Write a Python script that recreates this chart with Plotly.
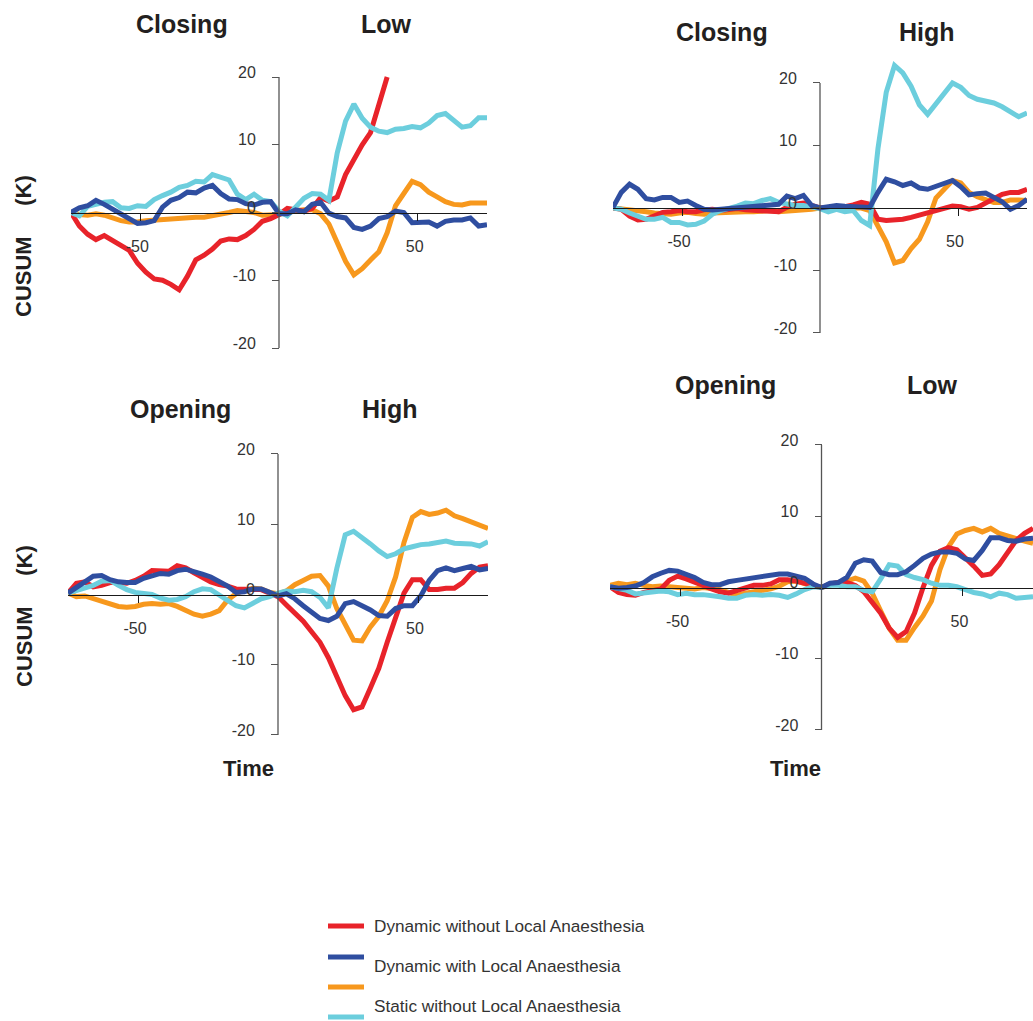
import plotly.graph_objects as go

W, H = 1033, 1021

# ---------------- data ----------------
time = list(range(-75, 76, 3))  # 51 samples

series_names = ["Dynamic without Local Anaesthesia",
                "Dynamic with Local Anaesthesia",
                "Static without Local Anaesthesia",
                "Static with Local Anaesthesia"]
legend_texts = ["Dynamic without Local Anaesthesia",
                "Dynamic with Local Anaesthesia",
                "Static without Local Anaesthesia"]
series_colors = ["#E8232A", "#2F4EA0", "#F7981D", "#6CCEDD"]

panel_titles = [("Closing", "Low"), ("Closing", "High"),
                ("Opening", "High"), ("Opening", "Low")]
y_ticks = [-20, -10, 0, 10, 20]
y_tick_labels = ["-20", "-10", "0", "10", "20"]
x_ticks = [-50, 50]
x_tick_labels = ["-50", "50"]

# Panel 1: Closing / Low
cl_low_red = [0, -2.0, -3.2, -4.0, -3.4, -4.2, -4.8, -5.6, -7.5, -8.8, -9.8, -10.0, -10.6, -11.4,
              -9.4, -7.0, -6.3, -5.4, -4.2, -3.9, -4.0, -3.4, -2.5, -1.3, -0.9, -0.3, 0.6, 0.4,
              0.2, 0.6, 2.2, 1.7, 2.3, 5.6, 7.8, 10.0, 11.8, 16.0, 20.0,
              None, None, None, None, None, None, None, None, None, None, None, None, None]
cl_low_blue = [0, 0.7, 1.0, 1.8, 1.2, 0.5, -0.2, -0.7, -1.6, -1.5, -1.2, 0.8, 1.8, 2.2, 3.0, 2.9,
               3.6, 4.0, 2.8, 2.0, 1.9, 1.3, 1.1, 1.5, 1.6, -0.2, -0.2, 0.4, 0.1, 1.2, 1.5, -0.1,
               -0.6, -0.8, -2.2, -2.5, -2.0, -0.9, -0.6, 0.2, 0.0, -1.5, -1.4, -1.4, -2.0, -1.3,
               -1.1, -1.1, -0.8, -2.0, -1.8]
cl_low_orange = [0, -0.3, -0.4, -0.2, -0.4, -0.9, -1.2, -1.4, -1.4, -1.2, -1.1, -1.1, -1.0, -0.9,
                 -0.8, -0.7, -0.7, -0.5, -0.3, 0.0, 0.3, 0.2, 0.0, -0.4, -0.4, -0.3, 0.1, 0.3, 0.4,
                 0.4, -0.2, -1.7, -4.6, -7.2, -9.2, -8.3, -7.0, -5.8, -3.0, 1.0, 2.8, 4.6, 4.1,
                 3.0, 2.3, 1.6, 1.2, 1.1, 1.4, 1.4, 1.4]
cl_low_cyan = [0, -0.5, 0.9, 1.2, 1.5, 1.6, 0.7, 0.6, 1.0, 0.9, 1.9, 2.5, 3.0, 3.7, 4.0, 4.6, 4.5,
               5.6, 5.2, 4.8, 2.7, 1.9, 2.7, 1.8, 1.6, 0.2, -0.5, 0.7, 2.1, 2.8, 2.7, 1.8, 8.8,
               13.5, 16.0, 13.9, 12.6, 12.0, 11.8, 12.3, 12.4, 12.7, 12.5, 13.2, 14.3, 14.6, 13.6,
               12.6, 12.8, 14.0, 14.0]

# Panel 2: Closing / High
cl_high_red = [0, -0.2, -1.3, -1.9, -1.8, -1.3, -0.7, -0.6, -0.4, -0.6, -0.6, -0.3, -0.2, -0.4,
               -0.3, -0.1, -0.3, -0.4, -0.5, -0.7, -0.6, 0.1, 0.6, 0.8, 0.3, 0.0, 0.1, 0.1, 0.2,
               0.5, 0.9, 0.6, -1.8, -2.0, -2.0, -1.8, -1.5, -1.1, -0.7, -0.3, 0.0, 0.3, 0.2, -0.2,
               0.1, 0.8, 1.5, 2.2, 2.5, 2.5, 3.0]
cl_high_blue = [0.1, 2.5, 3.8, 3.0, 1.5, 1.3, 1.7, 1.7, 0.9, 1.1, 0.4, -0.2, -0.3, -0.2, -0.1, 0.0,
                0.0, 0.1, 0.2, 0.3, 0.6, 1.9, 1.5, 2.0, 0.4, 0.0, 0.3, 0.4, 0.3, 0.3, 0.1, 0.1,
                2.5, 4.6, 4.2, 3.6, 4.0, 3.2, 3.0, 3.5, 4.0, 4.4, 3.4, 2.1, 2.3, 2.4, 1.7, 1.0,
                -0.2, 0.4, 1.4]
cl_high_orange = [0, -0.1, -0.2, -0.3, -0.6, -0.8, -1.0, -1.0, -0.8, -0.7, -0.9, -1.0, -0.8, -0.7,
                  -0.7, -0.7, -0.6, -0.6, -0.5, -0.4, -0.6, -0.5, -0.4, -0.4, -0.2, 0.0, 0.0, 0.1,
                  0.1, 0.0, 0.0, -0.4, -3.0, -5.4, -8.8, -8.4, -6.5, -5.0, -2.2, 1.6, 3.0, 4.4,
                  4.0, 2.5, 1.8, 1.3, 0.9, 0.9, 1.3, 1.3, 1.2]
cl_high_cyan = [0, -0.2, -0.8, -1.4, -1.8, -1.8, -1.5, -2.3, -2.3, -2.7, -2.6, -2.1, -1.0, -0.4,
                -0.1, 0.3, 0.8, 0.7, 1.2, 1.5, 0.9, 0.6, 0.4, 0.4, 0.2, -0.1, -0.6, -0.2, -0.6,
                -0.4, -2.0, -2.8, 9.5, 18.5, 22.8, 21.6, 19.5, 16.5, 15.0, 16.6, 18.2, 20.0, 19.3,
                18.0, 17.4, 17.2, 16.8, 16.2, 15.4, 14.6, 15.2]

# Panel 3: Opening / High
op_high_red = [0.2, 1.6, 1.8, 1.1, 1.3, 1.7, 1.7, 1.6, 2.0, 2.6, 3.4, 3.3, 3.3, 4.1, 3.8, 3.1, 2.4,
               1.8, 1.4, 1.2, 0.8, 0.7, 0.7, 0.7, 0.2, -0.3, -1.5, -2.6, -3.8, -5.3, -6.8, -9.0,
               -11.8, -14.4, -16.4, -16.0, -13.3, -10.5, -6.8, -3.3, 0.2, 2.1, 2.1, 0.7, 0.7, 0.9,
               0.9, 1.7, 3.0, 3.9, 4.1]
op_high_blue = [0.2, 1.1, 1.8, 2.6, 2.7, 2.1, 1.8, 1.7, 1.7, 2.3, 2.7, 3.0, 2.9, 3.4, 3.6, 3.3, 2.9,
                2.5, 1.9, 1.2, 0.3, 0.4, 0.8, 0.8, 0.3, -0.2, 0.1, -0.6, -1.6, -2.6, -3.4, -3.7,
                -3.1, -1.3, -1.0, -1.6, -2.2, -3.0, -3.1, -2.0, -1.6, -1.6, -0.2, 2.0, 3.4, 3.8,
                3.4, 3.7, 4.0, 3.5, 3.7]
op_high_orange = [0.2, -0.3, -0.2, -0.6, -1.0, -1.4, -1.7, -1.8, -1.7, -1.4, -1.3, -1.4, -1.3, -1.7,
                  -2.3, -2.8, -3.1, -2.8, -2.3, -0.8, 0.1, 0.6, 0.9, 0.8, 0.3, 0.1, 0.5, 1.4, 2.0,
                  2.6, 2.7, 1.2, -2.0, -4.4, -6.5, -6.6, -4.6, -3.1, -0.9, 2.5, 7.4, 11.0, 11.8,
                  11.4, 11.6, 12.0, 11.2, 10.8, 10.3, 9.8, 9.4]
op_high_cyan = [0.2, 0.6, 0.9, 1.3, 1.9, 2.0, 1.3, 0.7, 0.3, 0.2, 0.0, -0.5, -0.8, -0.7, -0.3, 0.4,
                0.8, 0.7, -0.1, -0.9, -1.6, -1.9, -1.3, -0.6, -0.3, 0.2, 0.5, 0.4, 0.6, 0.4, -0.4,
                -1.9, 3.7, 8.5, 9.0, 8.2, 7.2, 6.2, 5.4, 5.8, 6.5, 6.8, 7.1, 7.2, 7.4, 7.6, 7.3,
                7.3, 7.2, 6.9, 7.5]

# Panel 4: Opening / Low
op_low_red = [0.1, -0.7, -1.0, -1.1, -0.7, -0.5, -0.2, 1.0, 1.6, 1.2, 0.8, 0.3, -0.2, -0.6, -0.8,
              -0.4, 0.0, 0.3, 0.3, 0.5, 1.1, 1.1, 0.9, 0.6, 0.2, 0.0, 0.5, 0.7, 0.7, 0.3, -0.6,
              -2.0, -3.6, -5.7, -7.0, -6.2, -3.6, 0.0, 3.1, 5.1, 5.6, 5.3, 4.2, 3.0, 1.7, 1.9,
              3.2, 4.9, 6.6, 7.6, 8.3]
op_low_blue = [0.1, -0.1, 0.0, 0.2, 0.7, 1.5, 2.0, 2.4, 2.3, 1.9, 1.4, 0.7, 0.4, 0.4, 0.8, 1.0, 1.2,
               1.3, 1.5, 1.7, 1.9, 1.9, 1.6, 1.3, 0.5, 0.0, 0.6, 0.7, 1.4, 3.4, 3.9, 3.7, 2.1, 1.8,
               1.8, 2.2, 3.1, 4.1, 4.7, 5.0, 5.0, 4.8, 4.0, 3.8, 5.2, 7.0, 7.0, 6.6, 6.5, 6.8, 6.9]
op_low_orange = [0.3, 0.6, 0.4, 0.6, 0.3, 0.1, 0.2, 0.1, 0.0, -0.1, -0.2, 0.0, -0.1, -0.3, -0.7,
                 -1.1, -0.8, -0.6, -0.5, -0.2, 0.2, 0.8, 0.9, 0.5, 0.2, 0.0, 0.4, 0.7, 0.9, 1.3,
                 0.9, -0.8, -3.3, -5.7, -7.4, -7.4, -5.6, -4.0, -1.9, 2.5, 5.7, 7.5, 8.0, 8.3, 7.8,
                 8.3, 7.6, 7.2, 6.8, 6.5, 6.2]
op_low_cyan = [0.1, -0.1, -0.4, -0.9, -0.8, -0.6, -0.5, -0.6, -1.0, -0.8, -1.0, -1.0, -1.1, -1.3,
               -1.5, -1.5, -1.1, -1.0, -1.1, -1.0, -1.1, -1.4, -0.9, -0.3, 0.1, 0.0, 0.3, 0.3, 0.1,
               0.1, -0.4, -0.6, 1.2, 3.2, 3.0, 1.8, 1.4, 1.1, 0.6, 0.3, 0.3, 0.1, -0.3, -0.7,
               -0.9, -1.3, -0.8, -1.0, -1.5, -1.4, -1.3]

panel_data = [
    [cl_low_red, cl_low_blue, cl_low_orange, cl_low_cyan],
    [cl_high_red, cl_high_blue, cl_high_orange, cl_high_cyan],
    [op_high_red, op_high_blue, op_high_orange, op_high_cyan],
    [op_low_red, op_low_blue, op_low_orange, op_low_cyan],
]

# ---------------- layout geometry (pixels) ----------------
# left, right, pixel of y=+20, pixel of y=-20, x range, y max shown
panels_px = [
    (71, 487, 77, 348, [-75, 75], 20.5),
    (613, 1027, 83, 333, [-75, 75], 24.5),
    (68, 488, 454, 735, [-75, 75], 20.5),
    (610, 1033, 445, 730, [-75, 75], 20.5),
]
title_pos = [((182, 24), (386, 24)), ((722, 32), (927, 32)),
             ((180, 409), (390, 409)), ((725, 385), (932, 385))]

FONT = "Arial, Liberation Sans, sans-serif"
px = lambda v: v / W
py = lambda v: 1 - v / H

fig = go.Figure()
layout = dict(width=W, height=H, margin=dict(l=0, r=0, t=0, b=0, pad=0, autoexpand=False),
              paper_bgcolor="white", plot_bgcolor="rgba(0,0,0,0)",
              showlegend=False, font=dict(family=FONT, color="#333333"))

draw_order = [2, 0, 3, 1]  # orange, red, cyan, blue
annotations = []
shapes = []
for i, (l, r, t20, b20, xr, ymax) in enumerate(panels_px):
    xs = "" if i == 0 else str(i + 1)
    scale = (b20 - t20) / 40.0
    top = t20 - (ymax - 20) * scale
    xd = [px(l), px(r)]
    yd = [py(b20), py(top)]
    zero_y = py(b20 - 20 * scale)
    zero_x = px(l + (0 - xr[0]) / (xr[1] - xr[0]) * (r - l))
    layout["xaxis" + xs] = dict(
        domain=xd, range=xr, anchor="free", position=zero_y, automargin=False,
        showgrid=False, zeroline=False, showline=True, linecolor="#1a1a1a", linewidth=1,
        ticks="outside", ticklen=7, tickcolor="#1a1a1a",
        tickvals=x_ticks, ticktext=x_tick_labels,
        ticklabelstandoff=12, ticklabelshift=-3,
        tickfont=dict(size=16, color="#333333", family=FONT))
    layout["yaxis" + xs] = dict(
        domain=yd, range=[-20, ymax], anchor="free", position=zero_x, automargin=False,
        showgrid=False, zeroline=False, showline=False,
        ticks="outside", ticklen=7, tickcolor="#555555",
        tickvals=y_ticks, ticktext=y_tick_labels,
        ticklabelstandoff=13, ticklabelshift=-5,
        tickfont=dict(size=16, color="#333333", family=FONT))
    # vertical axis line from -20 to 20
    shapes.append(dict(type="line", xref="x" + xs, yref="y" + xs, x0=0, x1=0, y0=-20, y1=20,
                       line=dict(color="#555555", width=1.3), layer="above"))
    for k in draw_order:
        fig.add_trace(go.Scatter(
            x=time, y=panel_data[i][k], mode="lines", name=series_names[k],
            line=dict(color=series_colors[k], width=5),
            xaxis="x" + xs, yaxis="y" + xs, connectgaps=False))
    for (cx, cy), txt in zip(title_pos[i], panel_titles[i]):
        annotations.append(dict(x=px(cx), y=py(cy), xref="paper", yref="paper",
                                text="<b>" + txt + "</b>",
                                showarrow=False, xanchor="center", yanchor="middle",
                                font=dict(size=25, family=FONT, color="#231F20")))

# axis titles
for cy in (246, 616):
    annotations.append(dict(x=px(24), y=py(cy), xref="paper", yref="paper",
                            text="<b>CUSUM\u00a0\u00a0\u00a0\u00a0\u00a0(K)</b>", textangle=-90,
                            showarrow=False, xanchor="center", yanchor="middle",
                            font=dict(size=22, family=FONT, color="#231F20")))
for cx in (248, 795):
    annotations.append(dict(x=px(cx), y=py(768), xref="paper", yref="paper", text="<b>Time</b>",
                            showarrow=False, xanchor="center", yanchor="middle",
                            font=dict(size=22, family=FONT, color="#231F20")))

# custom legend (swatches and labels placed as in the original figure)
for k, sy in enumerate([926, 957, 987, 1017]):
    shapes.append(dict(type="line", xref="paper", yref="paper",
                       x0=px(328), x1=px(364), y0=py(sy), y1=py(sy),
                       line=dict(color=series_colors[k], width=5)))
for txt, ty in zip(legend_texts, [926, 966, 1006]):
    annotations.append(dict(x=px(372), y=py(ty), xref="paper", yref="paper", text=txt,
                            showarrow=False, xanchor="left", yanchor="middle",
                            font=dict(size=17.2, family=FONT, color="#333333")))

layout["annotations"] = annotations
layout["shapes"] = shapes
fig.update_layout(**layout)
fig.write_html("out.html", config={"displayModeBar": False},
               post_script="document.body.style.margin='0';document.body.style.overflow='hidden';")
